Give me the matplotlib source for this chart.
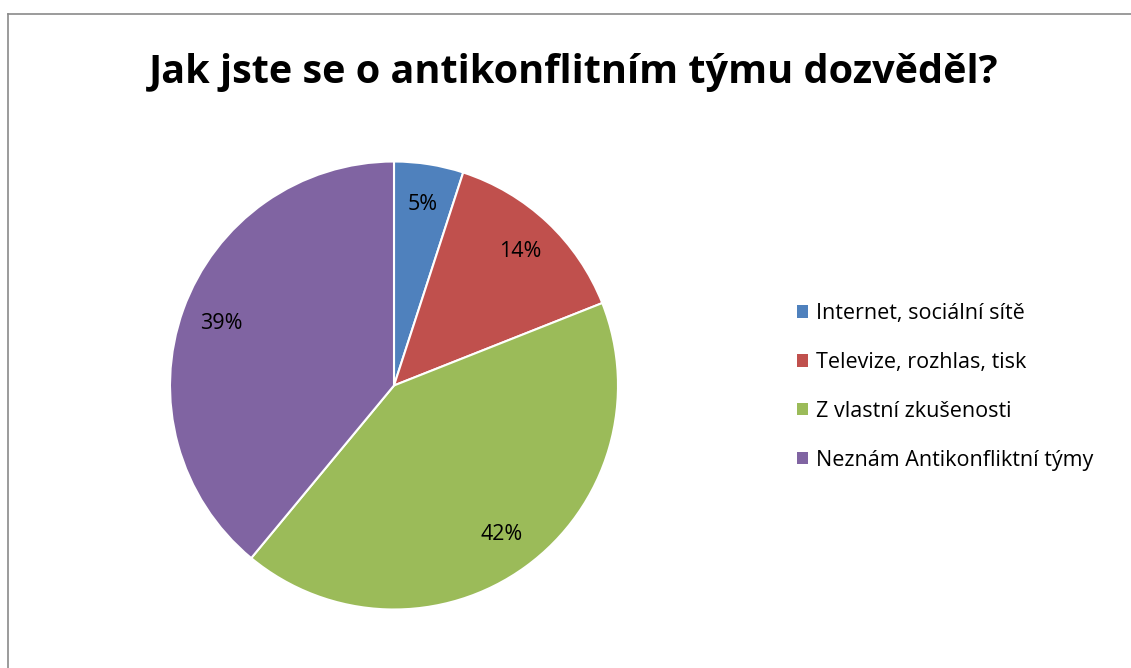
import matplotlib.pyplot as plt
from matplotlib.patches import Patch
import matplotlib.lines as mlines

# survey answers
labels = ['Internet, sociální sítě', 'Televize, rozhlas, tisk',
          'Z vlastní zkušenosti', 'Neznám Antikonfliktní týmy']
values = [5, 14, 42, 39]
colors = ['#4F81BD', '#C0504D', '#9BBB59', '#8064A2']
title = 'Jak jste se o antikonflitním týmu dozvěděl?'

plt.rcParams['font.family'] = ['Open Sans', 'DejaVu Sans']

fig = plt.figure(figsize=(11.31, 6.68), dpi=100)

# gray frame (left and top only visible)
fig.add_artist(mlines.Line2D([8/1131, 8/1131], [0, 1 - 14/668], color='#8a8a8a', lw=1.2))
fig.add_artist(mlines.Line2D([8/1131, 1], [1 - 14/668, 1 - 14/668], color='#8a8a8a', lw=1.2))

fig.text(574/1131, 1 - 72/668, title, ha='center', va='center',
         fontsize=28.5, fontweight='bold')

ax = fig.add_axes([(394 - 224)/1131, (668 - 385.5 - 224)/668, 448/1131, 448/668])
wedges, texts, autotexts = ax.pie(values, colors=colors, startangle=90, counterclock=False,
                                  autopct='%1.0f%%', pctdistance=0.82,
                                  wedgeprops=dict(edgecolor='white', linewidth=1.5),
                                  textprops=dict(fontsize=15.5, color='black'))
ax.set_xlim(-1, 1)
ax.set_ylim(-1, 1)
ax.set_aspect('equal')
ax.axis('off')

handles = [Patch(facecolor=c, edgecolor='none') for c in colors]
fig.legend(handles, labels, loc='center left', bbox_to_anchor=(786/1131, 1 - 387/668),
           frameon=False, fontsize=15.5, handlelength=0.5, handleheight=0.5,
           handletextpad=0.4, labelspacing=1.3, borderpad=0)

fig.savefig('out.png', dpi=100)
